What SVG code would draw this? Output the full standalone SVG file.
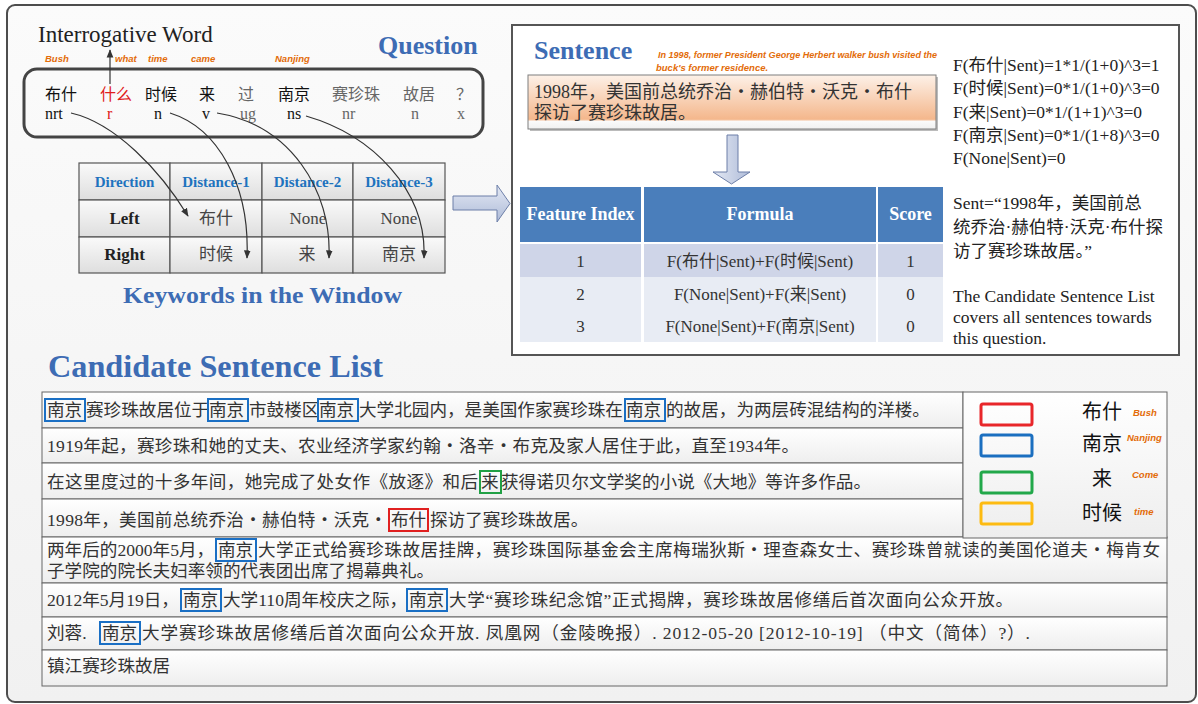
<svg xmlns="http://www.w3.org/2000/svg" width="1198" height="704" viewBox="0 0 1198 704">
<defs>
<style>
.ser{font-family:"Liberation Serif","Noto Sans CJK SC",serif}
.ttl{font-family:"Liberation Serif",serif;font-weight:bold;fill:#3d6cb4}
.or{font-family:"Liberation Sans",sans-serif;font-style:italic;font-weight:bold;fill:#e36c09;font-size:9.5px}
.t{font-family:"Liberation Serif","Noto Sans CJK SC",serif;font-size:17.6px;fill:#333}
.w{font-family:"Liberation Serif","Noto Sans CJK SC",serif;font-size:16px}
.th{font-family:"Liberation Serif",serif;font-weight:bold;font-size:15px;fill:#1e73be}
.td{font-family:"Liberation Serif","Noto Sans CJK SC",serif;font-size:17px;fill:#444}
.sh{font-family:"Liberation Serif",serif;font-weight:bold;font-size:18px;fill:#fff}
.sd{font-family:"Liberation Serif","Noto Sans CJK SC",serif;font-size:17px;fill:#333}
.fm{font-family:"Liberation Serif","Noto Sans CJK SC",serif;font-size:17.5px;fill:#222}
.cell{fill:url(#gcell);stroke:#555;stroke-width:1.2}
.row{fill:url(#grow);stroke:#666;stroke-width:1}
.kb{fill:none;stroke:#1a6fc4;stroke-width:2}
.cv{fill:none;stroke:#333;stroke-width:1.2;marker-end:url(#ah)}
</style>
<linearGradient id="gbg" x1="0" y1="0" x2="0" y2="1"><stop offset="0" stop-color="#fbfbfb"/><stop offset="1" stop-color="#f1f1f1"/></linearGradient>
<linearGradient id="gcell" x1="0" y1="0" x2="0" y2="1"><stop offset="0" stop-color="#fafafa"/><stop offset="1" stop-color="#dedede"/></linearGradient>
<linearGradient id="grow" x1="0" y1="0" x2="0" y2="1"><stop offset="0" stop-color="#ffffff"/><stop offset="1" stop-color="#eeeeee"/></linearGradient>
<linearGradient id="gor" x1="0" y1="0" x2="0" y2="1"><stop offset="0" stop-color="#fdf1e8"/><stop offset="0.82" stop-color="#f4b78c"/><stop offset="0.86" stop-color="#fafafa"/><stop offset="1" stop-color="#f0f0f0"/></linearGradient>
<linearGradient id="gar" x1="0" y1="0" x2="0" y2="1"><stop offset="0" stop-color="#e4e9f4"/><stop offset="1" stop-color="#aebbd8"/></linearGradient>
<linearGradient id="gar2" x1="0" y1="0" x2="1" y2="0"><stop offset="0" stop-color="#e4e9f4"/><stop offset="1" stop-color="#aebbd8"/></linearGradient>
<marker id="ah" viewBox="0 0 10 10" refX="9" refY="5" markerWidth="7" markerHeight="7" orient="auto"><path d="M0,1 L10,5 L0,9 z" fill="#333"/></marker>
</defs>

<rect x="7" y="5" width="1189" height="697" rx="8" fill="url(#gbg)" stroke="#4d4d4d" stroke-width="2"/>

<g id="question">
<text class="ser" x="38" y="42" font-size="23" fill="#222">Interrogative Word</text>
<text class="ttl" x="378" y="54" font-size="26">Question</text>
<text class="or" x="45" y="62">Bush</text>
<text class="or" x="115" y="62">what</text>
<text class="or" x="148" y="62">time</text>
<text class="or" x="191" y="62">came</text>
<text class="or" x="275" y="62">Nanjing</text>
<rect x="24" y="69" width="459" height="68" rx="13" fill="none" stroke="#444" stroke-width="3"/>
<g class="w">
<text x="45" y="100" fill="#111">布什</text>
<text x="100" y="100" fill="#e0201c">什么</text>
<text x="145" y="100" fill="#111">时候</text>
<text x="199" y="100" fill="#111">来</text>
<text x="238" y="100" fill="#666">过</text>
<text x="278" y="100" fill="#111">南京</text>
<text x="332" y="100" fill="#666">赛珍珠</text>
<text x="403" y="100" fill="#666">故居</text>
<text x="456" y="100" fill="#666">？</text>
<text x="45" y="119" fill="#111">nrt</text>
<text x="107" y="119" fill="#e0201c">r</text>
<text x="154" y="119" fill="#111">n</text>
<text x="202" y="119" fill="#111">v</text>
<text x="240" y="119" fill="#666">ug</text>
<text x="287" y="119" fill="#111">ns</text>
<text x="342" y="119" fill="#666">nr</text>
<text x="411" y="119" fill="#666">n</text>
<text x="457" y="119" fill="#666">x</text>
</g>
</g>

<g id="keyword-table">
<rect class="cell" x="79" y="163" width="91" height="37"/>
<rect class="cell" x="170" y="163" width="92" height="37"/>
<rect class="cell" x="262" y="163" width="91" height="37"/>
<rect class="cell" x="353" y="163" width="92" height="37"/>
<rect class="cell" x="79" y="200" width="91" height="37"/>
<rect class="cell" x="170" y="200" width="92" height="37"/>
<rect class="cell" x="262" y="200" width="91" height="37"/>
<rect class="cell" x="353" y="200" width="92" height="37"/>
<rect class="cell" x="79" y="237" width="91" height="36"/>
<rect class="cell" x="170" y="237" width="92" height="36"/>
<rect class="cell" x="262" y="237" width="91" height="36"/>
<rect class="cell" x="353" y="237" width="92" height="36"/>
<g text-anchor="middle">
<text class="th" x="124.5" y="187">Direction</text>
<text class="th" x="216" y="187">Distance-1</text>
<text class="th" x="307.5" y="187">Distance-2</text>
<text class="th" x="399" y="187">Distance-3</text>
<text class="ser" x="124.5" y="224" font-size="17" font-weight="bold" fill="#222">Left</text>
<text class="ser" x="124.5" y="260" font-size="17" font-weight="bold" fill="#222">Right</text>
<text class="td" x="216" y="224">布什</text>
<text class="td" x="308" y="224">None</text>
<text class="td" x="399" y="224">None</text>
<text class="td" x="216" y="260">时候</text>
<text class="td" x="307" y="260">来</text>
<text class="td" x="399" y="260">南京</text>
</g>
<text class="ttl" x="123" y="303" font-size="24" textLength="279" lengthAdjust="spacingAndGlyphs">Keywords in the Window</text>
</g>

<g id="connectors">
<path class="cv" d="M110,84 L110,50"/>
<path class="cv" d="M71,113 C115,123 160,170 188,216"/>
<path class="cv" d="M170,113 C218,128 250,185 247,258"/>
<path class="cv" d="M217,113 C290,125 332,190 329,258"/>
<path class="cv" d="M306,116 C372,135 427,190 424,258"/>
<polygon points="453,196 497,196 497,185 510,203.5 497,222 497,210 453,210" fill="url(#gar)" stroke="#6d7fa8" stroke-width="1"/>
</g>

<g id="sentence-panel">
<rect x="512" y="25" width="667" height="330" fill="#fff" stroke="#555" stroke-width="2"/>
<text class="ttl" x="534" y="59" font-size="26">Sentence</text>
<text class="or" x="658" y="58" textLength="279" lengthAdjust="spacingAndGlyphs">In 1998, former President George Herbert walker bush visited the</text>
<text class="or" x="656" y="71">buck's former residence.</text>
<rect x="530" y="77" width="408" height="54" fill="#bbb"/>
<rect x="528" y="75" width="408" height="54" fill="url(#gor)" stroke="#7f7f7f" stroke-width="1"/>
<text class="ser" x="534" y="98" font-size="18" fill="#333">1998年，美国前总统乔治・赫伯特・沃克・布什</text>
<text class="ser" x="534" y="119" font-size="18" fill="#333">探访了赛珍珠故居。</text>
<polygon points="727,135 738,135 738,172 750,172 731.5,184 713,172 727,172" fill="url(#gar2)" stroke="#6d7fa8" stroke-width="1"/>
</g>

<g id="score-table">
<rect x="520" y="187" width="121" height="55" fill="#4a7ebb"/>
<rect x="644" y="187" width="232" height="55" fill="#4a7ebb"/>
<rect x="878" y="187" width="65" height="55" fill="#4a7ebb"/>
<rect x="520" y="244" width="121" height="33" fill="#cfd5e8"/>
<rect x="644" y="244" width="232" height="33" fill="#cfd5e8"/>
<rect x="878" y="244" width="65" height="33" fill="#cfd5e8"/>
<rect x="520" y="277" width="121" height="65" fill="#e8ecf4"/>
<rect x="644" y="277" width="232" height="65" fill="#e8ecf4"/>
<rect x="878" y="277" width="65" height="65" fill="#e8ecf4"/>
<g text-anchor="middle">
<text class="sh" x="580.5" y="220">Feature Index</text>
<text class="sh" x="760" y="220">Formula</text>
<text class="sh" x="910.5" y="220">Score</text>
<text class="sd" x="580.5" y="267">1</text>
<text class="sd" x="760" y="267">F(布什|Sent)+F(时候|Sent)</text>
<text class="sd" x="910.5" y="267">1</text>
<text class="sd" x="580.5" y="300">2</text>
<text class="sd" x="760" y="300">F(None|Sent)+F(来|Sent)</text>
<text class="sd" x="910.5" y="300">0</text>
<text class="sd" x="580.5" y="332">3</text>
<text class="sd" x="760" y="332">F(None|Sent)+F(南京|Sent)</text>
<text class="sd" x="910.5" y="332">0</text>
</g>
</g>

<g id="formulas">
<text class="fm" x="953" y="71">F(布什|Sent)=1*1/(1+0)^3=1</text>
<text class="fm" x="953" y="94">F(时候|Sent)=0*1/(1+0)^3=0</text>
<text class="fm" x="953" y="118">F(来|Sent)=0*1/(1+1)^3=0</text>
<text class="fm" x="953" y="141">F(南京|Sent)=0*1/(1+8)^3=0</text>
<text class="fm" x="953" y="164">F(None|Sent)=0</text>
<text class="fm" x="953" y="209">Sent=“1998年，美国前总</text>
<text class="fm" x="953" y="233">统乔治·赫伯特·沃克·布什探</text>
<text class="fm" x="953" y="257">访了赛珍珠故居。”</text>
<text class="fm" x="953" y="302">The Candidate Sentence List</text>
<text class="fm" x="953" y="323">covers all sentences towards</text>
<text class="fm" x="953" y="344">this question.</text>
</g>

<g id="candidate-list">
<text class="ttl" x="48" y="377" font-size="31" textLength="335" lengthAdjust="spacingAndGlyphs">Candidate Sentence List</text>
<rect class="row" x="42" y="392" width="921" height="36"/>
<rect class="row" x="42" y="428" width="921" height="35"/>
<rect class="row" x="42" y="463" width="921" height="36"/>
<rect class="row" x="42" y="499" width="921" height="38"/>
<rect class="row" x="42" y="537" width="1125" height="46"/>
<rect class="row" x="42" y="583" width="1125" height="34"/>
<rect class="row" x="42" y="617" width="1125" height="33"/>
<rect class="row" x="42" y="650" width="1125" height="36"/>

<text class="t" x="47" y="416">南京</text>
<text class="t" x="86" y="416">赛珍珠故居位于</text>
<text class="t" x="209" y="416">南京</text>
<text class="t" x="249" y="416">市鼓楼区</text>
<text class="t" x="319" y="416">南京</text>
<text class="t" x="359" y="416">大学北园内，是美国作家赛珍珠在</text>
<text class="t" x="626" y="416">南京</text>
<text class="t" x="666" y="416">的故居，为两层砖混结构的洋楼。</text>
<rect class="kb" x="45" y="399" width="40" height="22"/>
<rect class="kb" x="208" y="399" width="40" height="22"/>
<rect class="kb" x="318" y="399" width="40" height="22"/>
<rect class="kb" x="625" y="399" width="40" height="22"/>

<text class="t" x="47" y="452" textLength="752">1919年起，赛珍珠和她的丈夫、农业经济学家约翰・洛辛・布克及家人居住于此，直至1934年。</text>

<text class="t" x="47" y="488" textLength="431">在这里度过的十多年间，她完成了处女作《放逐》和后</text>
<text class="t" x="481" y="488">来</text>
<text class="t" x="501" y="488" textLength="370">获得诺贝尔文学奖的小说《大地》等许多作品。</text>
<rect x="480" y="471" width="21" height="22" fill="none" stroke="#21a045" stroke-width="2"/>

<text class="t" x="47" y="526" textLength="340">1998年，美国前总统乔治・赫伯特・沃克・</text>
<text class="t" x="391" y="526">布什</text>
<text class="t" x="430" y="526">探访了赛珍珠故居。</text>
<rect x="389" y="509" width="39" height="22" fill="none" stroke="#e02020" stroke-width="2"/>

<text class="t" x="47" y="556">两年后的2000年5月，</text>
<text class="t" x="218" y="556">南京</text>
<text class="t" x="258" y="556" textLength="902">大学正式给赛珍珠故居挂牌，赛珍珠国际基金会主席梅瑞狄斯・理查森女士、赛珍珠曾就读的美国伦道夫・梅肯女</text>
<text class="t" x="47" y="577">子学院的院长夫妇率领的代表团出席了揭幕典礼。</text>
<rect class="kb" x="216" y="539" width="40" height="22"/>

<text class="t" x="47" y="606">2012年5月19日，</text>
<text class="t" x="183" y="606">南京</text>
<text class="t" x="223" y="606">大学110周年校庆之际，</text>
<text class="t" x="409" y="606">南京</text>
<text class="t" x="449" y="606" textLength="564">大学“赛珍珠纪念馆”正式揭牌，赛珍珠故居修缮后首次面向公众开放。</text>
<rect class="kb" x="181" y="589" width="40" height="22"/>
<rect class="kb" x="407" y="589" width="40" height="22"/>

<text class="t" x="47" y="639">刘蓉. </text>
<text class="t" x="102" y="639">南京</text>
<text class="t" x="142" y="639" textLength="888">大学赛珍珠故居修缮后首次面向公众开放. 凤凰网（金陵晚报）. 2012-05-20 [2012-10-19] （中文（简体）?）.</text>
<rect class="kb" x="100" y="622" width="40" height="22"/>

<text class="t" x="47" y="672">镇江赛珍珠故居</text>
</g>

<g id="legend">
<rect x="963" y="392" width="204" height="146" fill="url(#grow)" stroke="#666" stroke-width="1"/>
<rect x="981" y="404" width="51" height="21" rx="2" fill="none" stroke="#e8262a" stroke-width="3"/>
<rect x="981" y="435" width="51" height="21" rx="2" fill="none" stroke="#1b6fc0" stroke-width="3"/>
<rect x="981" y="472" width="51" height="21" rx="2" fill="none" stroke="#22a84a" stroke-width="3"/>
<rect x="981" y="503" width="51" height="21" rx="2" fill="none" stroke="#fdbb12" stroke-width="3"/>
<text class="ser" x="1082" y="419" font-size="20" fill="#111">布什</text>
<text class="ser" x="1082" y="451" font-size="20" fill="#111">南京</text>
<text class="ser" x="1092" y="486" font-size="20" fill="#111">来</text>
<text class="ser" x="1082" y="520" font-size="20" fill="#111">时候</text>
<text class="or" x="1133" y="416">Bush</text>
<text class="or" x="1127" y="441">Nanjing</text>
<text class="or" x="1132" y="478">Come</text>
<text class="or" x="1134" y="515">time</text>
</g>
</svg>
